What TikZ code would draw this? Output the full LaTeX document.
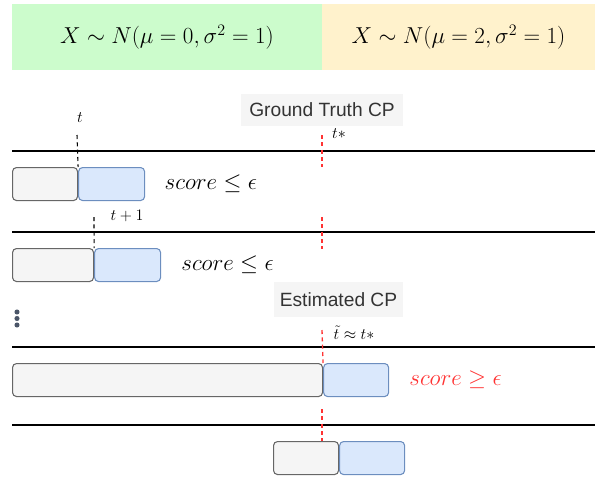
\documentclass[tikz,border=0pt]{standalone}
\usepackage{fontspec}
\newfontfamily\cpfont{Liberation Sans}
\usetikzlibrary{positioning}
\definecolor{cpgreen}{RGB}{204,252,204}
\definecolor{cpyellow}{RGB}{255,242,204}
\definecolor{cpgrey}{RGB}{245,245,245}
\definecolor{cpgreyline}{RGB}{102,102,102}
\definecolor{cpblue}{RGB}{218,232,252}
\definecolor{cpblueline}{RGB}{108,142,191}
\definecolor{cpred}{RGB}{255,51,51}
\definecolor{cpdots}{RGB}{74,85,104}

\begin{document}
\begin{tikzpicture}[x=0.75pt,y=-0.75pt,
  banner/.style={minimum height=49.5pt,inner sep=0pt,font=\LARGE},
  cplabel/.style={fill=cpgrey,minimum height=24pt,inner sep=0pt,
                  text=black!80,font=\cpfont\Large},
  seg/.style={rounded corners=3pt,minimum height=24.75pt,inner sep=0pt,line width=0.8pt},
  past/.style={seg,draw=cpgreyline,fill=cpgrey,anchor=north west},
  win/.style={seg,draw=cpblueline,fill=cpblue,minimum width=49.5pt},
  axis/.style={line width=1.1pt},
  tdash/.style={dash pattern=on 3pt off 2.5pt,line width=0.8pt},
  cpdash/.style={tdash,cpred,line width=1pt},
  tlab/.style={font=\large,inner sep=1pt},
  score/.style={font=\LARGE,inner sep=0pt}
]
  \useasboundingbox (0,0) rectangle (595,476);

  % distributions before and after the change point
  \node[banner,fill=cpgreen,minimum width=232.5pt] (h0) at (167,37) {$X \sim N(\mu=0,\sigma^2=1)$};
  \node[banner,fill=cpyellow,minimum width=204.75pt] (h2) at (458.5,37) {$X \sim N(\mu=2,\sigma^2=1)$};

  % time axes
  \foreach \y in {151,232,347,425}
    \draw[axis] (12,\y) -- (595,\y);

  \node[cplabel,minimum width=121.5pt] (gt) at (322,110) {Ground Truth CP};
  \node[cplabel,minimum width=96.75pt,minimum height=26.25pt] (est) at (338.5,299.5) {Estimated CP};

  % sliding windows
  \node[past,minimum width=48.75pt] (g1) at (12,167) {};
  \node[win,right=0pt of g1] (b1) {};
  \node[past,minimum width=60.75pt] (g2) at (12,248) {};
  \node[win,right=0pt of g2] (b2) {};
  \node[past,minimum width=232.5pt] (g3) at (12,363) {};
  \node[win,minimum width=48.75pt,right=0pt of g3] (b3) {};
  \node[past,minimum width=48.75pt] (g4) at (273,441) {};
  \node[win,minimum width=48.75pt,right=0pt of g4] (b4) {};

  \node[score,right=14.5pt of b1] (s1) {$score \leq \epsilon$};
  \node[score,right=15pt of b2] (s2) {$score \leq \epsilon$};
  \node[score,right=15pt of b3,text=cpred] (s3) {$score \geq \epsilon$};

  % time labels
  \node[tlab] (t0) at (80,118) {$t$};
  \node[tlab] (ts) at (339,134) {$t*$};
  \node[tlab] (t1) at (127,216) {$t+1$};
  \node[tlab] (tt) at (354,333) {$\tilde{t} \approx t*$};

  \coordinate (d0) at (77,135);
  \coordinate (d1) at (94,217);
  \draw[tdash] (d0) -- (g1.north east);
  \draw[tdash] (d1) -- (g2.north east);

  \coordinate (cpA) at (322,135);
  \coordinate (cpB) at (322,167);
  \coordinate (cpC) at (322,217);
  \coordinate (cpD) at (322,249);
  \coordinate (cpE) at (322,330);
  \coordinate (cpF) at (322,409);
  \coordinate (cpG) at (322,441);
  \draw[cpdash] (cpA) -- (cpB);
  \draw[cpdash] (cpC) -- (cpD);
  \draw[cpdash] (cpE) -- (g3.north east);
  \draw[cpdash] (cpF) -- (cpG);

  \foreach \y in {312,318.5,325}
    \fill[cpdots] (17,\y) circle (1.9pt);
\end{tikzpicture}
\end{document}
